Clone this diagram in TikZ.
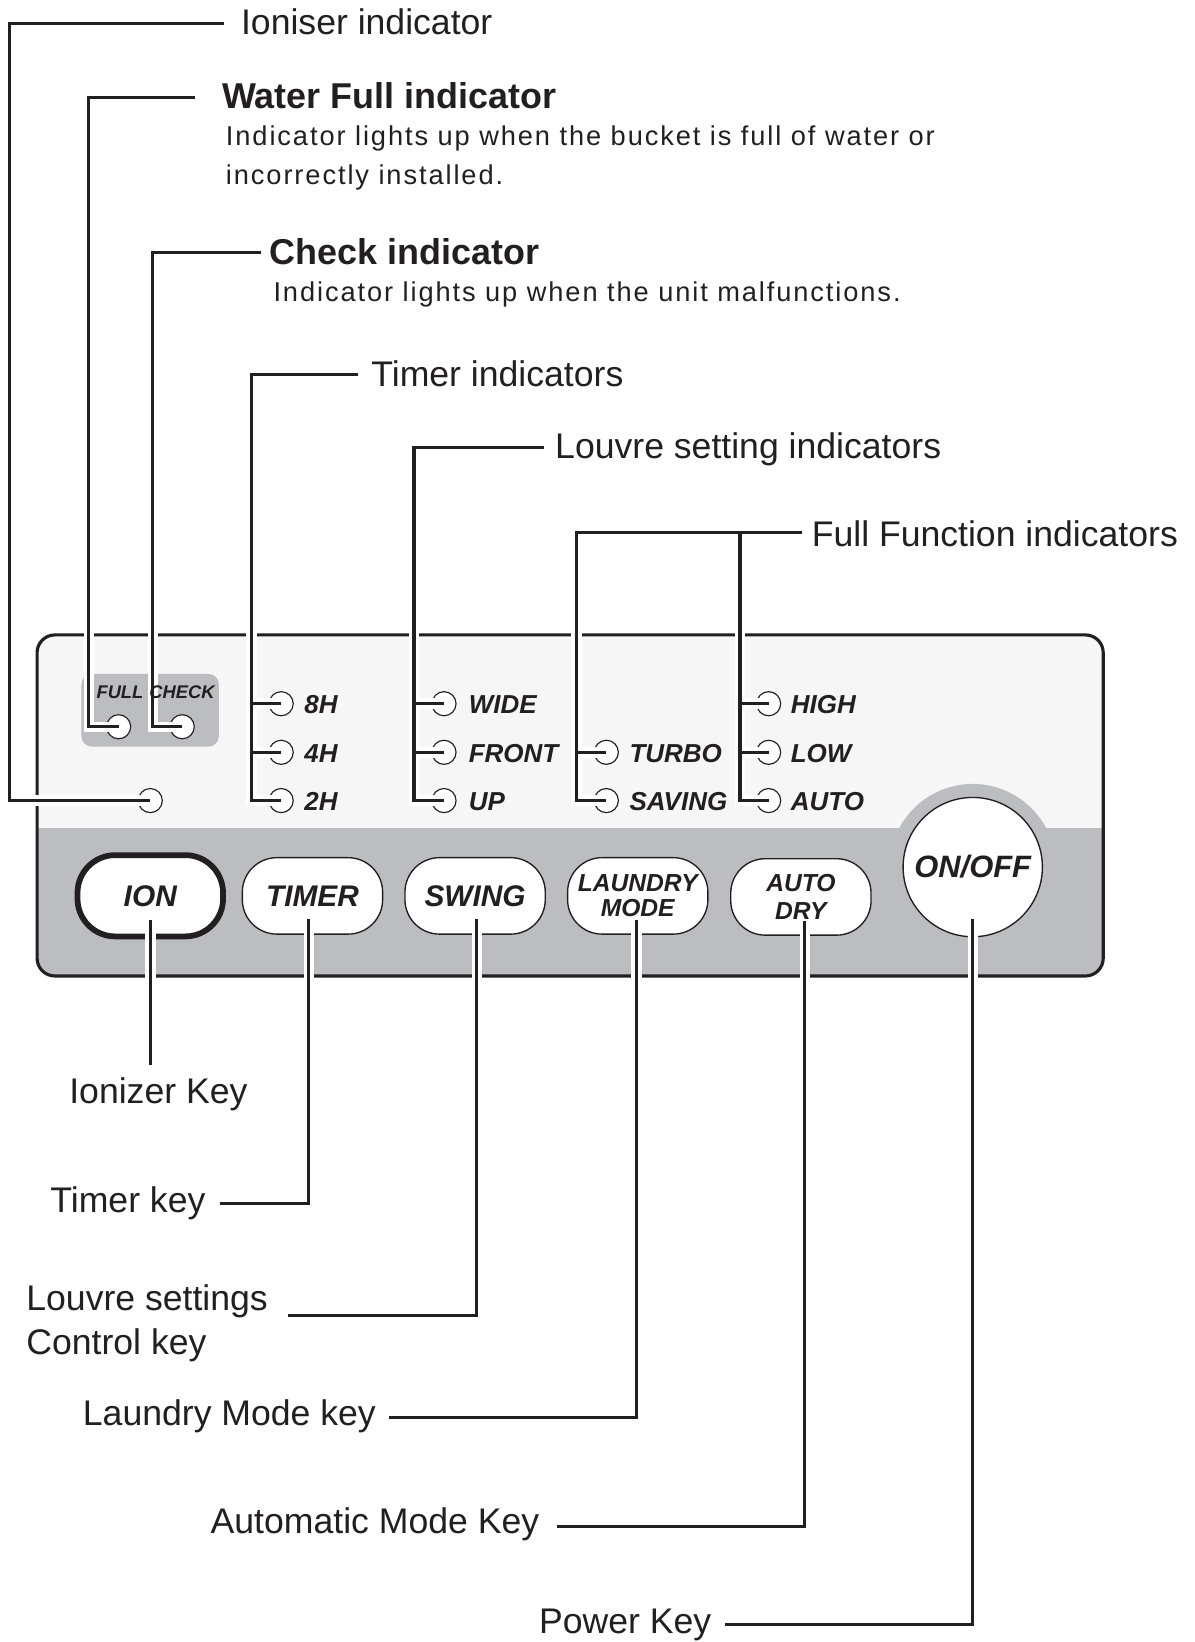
\documentclass[tikz,border=0pt]{standalone}
\usepackage{fontspec}
\setmainfont{Liberation Sans}
\newfontfamily\descfont[LetterSpace=7]{Liberation Sans}
\definecolor{ink}{HTML}{231F20}
\definecolor{bandgrey}{HTML}{BCBDC0}
\definecolor{panellight}{HTML}{F6F6F6}
\newcommand\drawleaderset[1]{%
  \draw[#1] (ioe) -- (ioc) |- (ledIon.center);
  \draw[#1] (wfe) -- (wfc) |- (ledFull.center);
  \draw[#1] (cke) -- (ckc) |- (ledCheck.center);
  \draw[#1] (tie) -- (tic) |- (led2H.center);
  \draw[#1] (led8H.center) -- (led8H.center -| tic);
  \draw[#1] (led4H.center) -- (led4H.center -| tic);
  \draw[#1] (lve) -- (lvc) |- (ledUp.center);
  \draw[#1] (ledWide.center) -- (ledWide.center -| lvc);
  \draw[#1] (ledFront.center) -- (ledFront.center -| lvc);
  \draw[#1] (ffe) -- (ffc) |- (ledSaving.center);
  \draw[#1] (ledTurbo.center) -- (ledTurbo.center -| ffc);
  \draw[#1] (ffd) |- (ledAuto.center);
  \draw[#1] (ledHigh.center) -- (ledHigh.center -| ffd);
  \draw[#1] (ledLow.center) -- (ledLow.center -| ffd);
  \draw[#1, shorten <=23pt] (ionkey.center) -- (ione);
  \draw[#1, shorten <=22.5pt] ([xshift=-3.5pt]timerkey.center) |- (tke);
  \draw[#1, shorten <=22.5pt] ([xshift=1.6pt]swingkey.center) |- (ske);
  \draw[#1, shorten <=23pt] ([xshift=-1pt]laundrykey.center) |- (lke);
  \draw[#1, shorten <=23pt] ([xshift=3.8pt]autokey.center) |- (ake);
  \draw[#1, shorten <=50pt] (onoff.center) |- (pke);
}
\begin{document}
\begin{tikzpicture}[x=1pt,y=-1pt,
  lbl/.style={anchor=base west, inner sep=0pt, text=ink, font=\fontsize{34}{40}\selectfont},
  lblbold/.style={anchor=base west, inner sep=0pt, text=ink, font=\fontsize{34.3}{40}\selectfont\bfseries},
  desc/.style={anchor=base west, inner sep=0pt, text=ink, font=\fontsize{26}{30}\descfont},
  led/.style={circle, draw=ink, fill=white, line width=1.1pt, minimum size=23pt, inner sep=0pt},
  ledlbl/.style={anchor=base west, inner sep=0pt, text=ink, font=\fontsize{24.8}{30}\selectfont\bfseries\itshape},
  smalllbl/.style={anchor=base west, inner sep=0pt, text=ink, font=\fontsize{17.5}{20}\selectfont\bfseries\itshape},
  key/.style={rectangle, rounded corners=33pt, draw=ink, fill=white, line width=1.3pt, minimum width=134pt, minimum height=73pt, inner sep=0pt, align=center, text=ink, font=\fontsize{28.5}{32}\selectfont\bfseries\itshape},
  halo/.style={draw=white, line width=10pt},
  lead/.style={draw=ink, line width=3pt},
]
\useasboundingbox (0,0) rectangle (1141,1568);

% panel
\fill[panellight, rounded corners=17pt] (35.4,606.3) rectangle (1053.5,932);
\begin{scope}
  \clip[rounded corners=17pt] (35.4,606.3) rectangle (1053.5,932);
  \fill[bandgrey] (30,791) rectangle (1060,940);
  \fill[bandgrey] (928.9,828) circle (79.4pt);
\end{scope}
\draw[ink, line width=3pt, rounded corners=17pt] (35.4,606.3) rectangle (1053.5,932);

% full/check box
\fill[bandgrey, rounded corners=10pt] (77.8,643.5) rectangle (209,713);

% LEDs
\node[led] (ledFull) at (113.3,694) {};
\node[led] (ledCheck) at (174,694) {};
\node[led] (ledIon) at (143.5,764.5) {};
\node[led] (led8H) at (268.5,672) {};
\node[led] (led4H) at (268.5,718.4) {};
\node[led] (led2H) at (268.5,764.5) {};
\node[led] (ledWide) at (424,672) {};
\node[led] (ledFront) at (424,718.4) {};
\node[led] (ledUp) at (424,764.5) {};
\node[led] (ledTurbo) at (579,718.4) {};
\node[led] (ledSaving) at (579,764.5) {};
\node[led] (ledHigh) at (734,672) {};
\node[led] (ledLow) at (734,718.4) {};
\node[led] (ledAuto) at (734,764.5) {};

% LED labels
\node[ledlbl] (t8H) at (290.5,681.5) {8H};
\node[ledlbl] (t4H) at (290.5,727.9) {4H};
\node[ledlbl] (t2H) at (290.5,774) {2H};
\node[ledlbl] (tWide) at (447.5,681.5) {WIDE};
\node[ledlbl] (tFront) at (447.5,727.9) {FRONT};
\node[ledlbl] (tUp) at (447.5,774) {UP};
\node[ledlbl] (tTurbo) at (601,727.9) {TURBO};
\node[ledlbl] (tSaving) at (601,774) {SAVING};
\node[ledlbl] (tHigh) at (755,681.5) {HIGH};
\node[ledlbl] (tLow) at (755,727.9) {LOW};
\node[ledlbl] (tAuto) at (755,774) {AUTO};

% keys
\node[key, line width=5.5pt, minimum width=139pt, minimum height=77.6pt, rounded corners=36pt] (ionkey) at (143.5,855.4) {ION};
\node[key] (timerkey) at (298.4,855.5) {TIMER};
\node[key] (swingkey) at (453.7,855.5) {SWING};
\node[key, font=\fontsize{23.5}{24}\selectfont\bfseries\itshape] (laundrykey) at (609,855.5) {LAUNDRY\\MODE};
\node[key, font=\fontsize{23.5}{27.5}\selectfont\bfseries\itshape] (autokey) at (764.8,856.5) {AUTO\\DRY};
\node[circle, draw=ink, fill=white, line width=1.3pt, minimum size=133pt, inner sep=0pt, text=ink, font=\fontsize{29.5}{32}\selectfont\bfseries\itshape] (onoff) at (928.9,828) {ON/OFF};

% leader end coordinates
\coordinate (ioe) at (214,22.5);   \coordinate (ioc) at (9.1,22.5);
\coordinate (wfe) at (186.4,93);   \coordinate (wfc) at (84.8,93);
\coordinate (cke) at (249,241);    \coordinate (ckc) at (146,241);
\coordinate (tie) at (342,357.4);  \coordinate (tic) at (240,357.4);
\coordinate (lve) at (519,427);    \coordinate (lvc) at (395.4,427);
\coordinate (ffe) at (766,508.3);  \coordinate (ffc) at (550.7,508.3); \coordinate (ffd) at (706.6,508.3);
\coordinate (ione) at (143.5,1017);
\coordinate (tke) at (210,1149);
\coordinate (ske) at (275,1256.5);
\coordinate (lke) at (371,1354);
\coordinate (ake) at (532,1458);
\coordinate (pke) at (692,1551);

\drawleaderset{halo}
\node[smalllbl] (fulltxt) at (92,666.8) {FULL};
\node[smalllbl] (checktxt) at (142.5,666.8) {CHECK};
\drawleaderset{lead}

% texts
\node[lbl] (ionind) at (230,33.4) {Ioniser indicator};
\node[lblbold] (wfind) at (212,103.4) {Water Full indicator};
\node[desc] (wfd1) at (215.6,139) {Indicator lights up when the bucket is full of water or};
\node[desc] (wfd2) at (215.6,176) {incorrectly installed.};
\node[lblbold] (ckind) at (257.6,253) {Check indicator};
\node[desc] (ckd) at (261,288) {Indicator lights up when the unit malfunctions.};
\node[lbl] (tiind) at (354.5,369.2) {Timer indicators};
\node[lbl] (lvind) at (530,438.3) {Louvre setting indicators};
\node[lbl] (ffind) at (775,522) {Full Function indicators};
\node[lbl] (ionlbl) at (66,1053.5) {Ionizer Key};
\node[lbl] (tklbl) at (48,1158) {Timer key};
\node[lbl] (sklbl1) at (25,1251) {Louvre settings};
\node[lbl] (sklbl2) at (25,1293) {Control key};
\node[lbl] (lklbl) at (79,1361.5) {Laundry Mode key};
\node[lbl] (aklbl) at (201,1464) {Automatic Mode Key};
\node[lbl] (pklbl) at (514.6,1560) {Power Key};
\end{tikzpicture}
\end{document}
